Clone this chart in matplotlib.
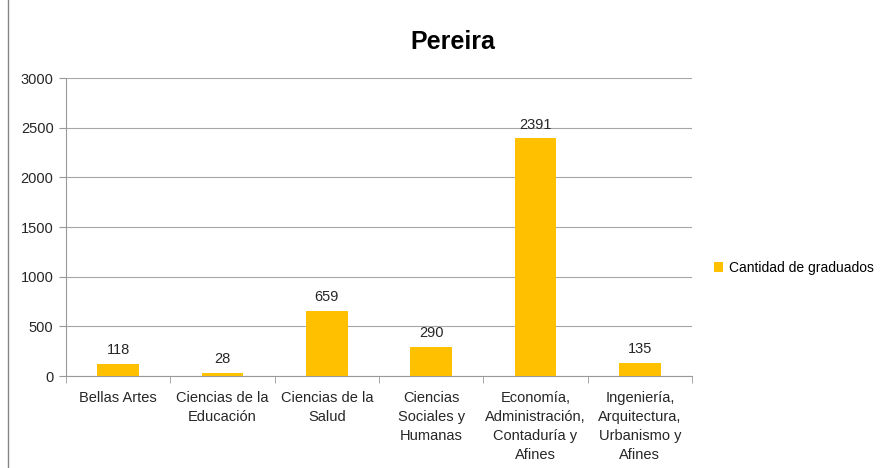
import matplotlib
matplotlib.use("Agg")
import matplotlib.pyplot as plt
from matplotlib.lines import Line2D
import numpy as np

plt.rcParams['font.family'] = ['Liberation Sans', 'DejaVu Sans']

categories = ["Bellas Artes", "Ciencias de la\nEducación", "Ciencias de la\nSalud",
              "Ciencias\nSociales y\nHumanas",
              "Economía,\nAdministración,\nContaduría y\nAfines",
              "Ingeniería,\nArquitectura,\nUrbanismo y\nAfines"]
graduados = [118, 28, 659, 290, 2391, 135]
yticks = [0, 500, 1000, 1500, 2000, 2500, 3000]

fig = plt.figure(figsize=(8.86, 4.68), dpi=100)
ax = fig.add_axes([66/886, 1 - 376/468, (692 - 66)/886, (376 - 78)/468])

x = np.arange(len(categories))
bars = ax.bar(x, graduados, width=0.4, color="#FFC000", label="Cantidad de graduados", zorder=3)
for xi, v in zip(x, graduados):
    ax.text(xi, v + 70, str(v), ha="center", va="bottom", fontsize=10.5, color="#262626")

ax.set_xlim(-0.5, len(categories) - 0.5)
ax.set_ylim(0, 3000)
ax.set_yticks(yticks)
ax.tick_params(axis="y", length=5, color="#999999", labelsize=10.5, labelcolor="#262626", pad=4)
ax.grid(axis="y", color="#a6a6a6", linewidth=0.8, zorder=0)

ax.set_xticks(x)
ax.set_xticklabels(categories, fontsize=10.5, color="#262626", linespacing=1.45)
ax.tick_params(axis="x", length=0, pad=11)
ax.set_xticks(np.arange(len(categories) + 1) - 0.5, minor=True)
ax.tick_params(axis="x", which="minor", length=5, color="#999999")

for s in ["top", "right"]:
    ax.spines[s].set_visible(False)
for s in ["left", "bottom"]:
    ax.spines[s].set_color("#999999")

fig.text(453/886, 1 - 42/468, "Pereira", ha="center", va="center", fontsize=18, fontweight="bold")

fig.legend(handles=[bars], labels=["Cantidad de graduados"], loc="center left",
           bbox_to_anchor=(708/886, 1 - 268/468), frameon=False, fontsize=10,
           handlelength=0.7, handleheight=0.7, handletextpad=0.4, borderaxespad=0)

fig.add_artist(Line2D([8/886, 8/886], [0, 1], color="#868686", linewidth=1))

fig.savefig("out.png", dpi=100)
